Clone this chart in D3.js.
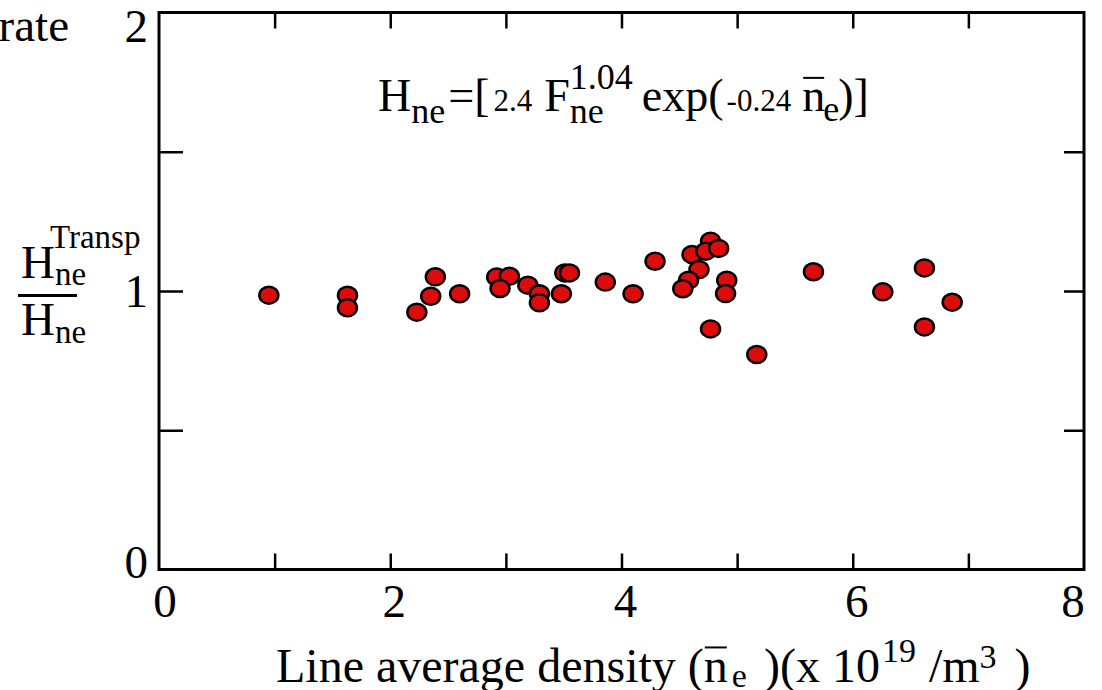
<!DOCTYPE html>
<html>
<head>
<meta charset="UTF-8">
<title>H_ne ratio vs line average density</title>
<script src="https://d3js.org/d3.v7.min.js"></script>
<style>
  body { margin: 0; background: #fff; }
  svg text { font-family: "Liberation Serif", "Times New Roman", serif; fill: #000; }
</style>
</head>
<body>
<svg id="chart" width="1102" height="690"></svg>
<script>
// line average density (x 10^19 /m^3)
const density = [0.95, 1.63, 1.63, 2.23, 2.39, 2.35, 2.60, 2.92, 3.03, 2.95,
                 3.19, 3.29, 3.29, 3.48, 3.51, 3.55, 3.86, 4.10, 4.29, 4.61,
                 4.77, 4.73, 4.84, 4.67, 4.58, 4.53, 4.91, 4.90, 4.77, 5.17,
                 5.66, 6.26, 6.62, 6.86, 6.62];
// H_ne^Transp / H_ne
const ratio = [0.985, 0.985, 0.940, 0.924, 1.051, 0.981, 0.990, 1.050, 1.053, 1.009,
               1.021, 0.990, 0.958, 0.990, 1.065, 1.065, 1.032, 0.990, 1.107, 1.131,
               1.179, 1.143, 1.153, 1.077, 1.039, 1.008, 1.039, 0.991, 0.864, 0.772,
               1.069, 0.997, 1.083, 0.960, 0.871];

const xLabels = [0, 2, 4, 6, 8];
const xMarks = [1, 2, 3, 4, 5, 6, 7];
const yLabels = [0, 1, 2];
const yMarks = [0.5, 1, 1.5];

const svg = d3.select("svg#chart");
const plotLeft = 159, plotRight = 1084, plotTop = 12.5, plotBottom = 569.5;

const x = d3.scaleLinear().domain([0, 8]).range([plotLeft, plotRight]);
const y = d3.scaleLinear().domain([0, 2]).range([plotBottom, plotTop]);

// tick marks, all pointing inward
svg.append("g").attr("transform", `translate(0,${plotBottom})`)
    .call(d3.axisBottom(x).tickValues(xMarks).tickSize(-16).tickFormat(""));
svg.append("g").attr("transform", `translate(0,${plotTop})`)
    .call(d3.axisTop(x).tickValues(xMarks).tickSize(-16).tickFormat(""));
svg.append("g").attr("transform", `translate(${plotLeft},0)`)
    .call(d3.axisLeft(y).tickValues(yMarks).tickSize(-24).tickFormat(""));
svg.append("g").attr("transform", `translate(${plotRight},0)`)
    .call(d3.axisRight(y).tickValues(yMarks).tickSize(-20).tickFormat(""));
svg.selectAll(".domain").remove();
svg.selectAll(".tick line").attr("stroke", "#000").attr("stroke-width", 2.5);

// frame
svg.append("rect")
    .attr("x", plotLeft).attr("y", plotTop)
    .attr("width", plotRight - plotLeft).attr("height", plotBottom - plotTop)
    .attr("fill", "none").attr("stroke", "#000").attr("stroke-width", 3);

// tick labels
svg.append("g").selectAll("text").data(xLabels).join("text")
    .attr("x", d => Math.max(165, Math.min(1073, x(d) + 4)))
    .attr("y", 617)
    .attr("text-anchor", "middle")
    .attr("font-size", 47)
    .text(d => d);
svg.append("g").selectAll("text").data(yLabels).join("text")
    .attr("x", 148)
    .attr("y", d => Math.max(42, Math.min(578, y(d) + 16)))
    .attr("text-anchor", "end")
    .attr("font-size", 47)
    .text(d => d);

// points
svg.append("g").selectAll("ellipse").data(density).join("ellipse")
    .attr("cx", d => x(d))
    .attr("cy", (d, i) => y(ratio[i]))
    .attr("rx", 9.5).attr("ry", 8.5)
    .attr("fill", "#dc0c0c")
    .attr("stroke", "#000")
    .attr("stroke-width", 2.5);

// text made of pieces: sub/superscripts, overlines
function richText(x0, base, parts) {
    let cursor = x0, prevX = x0;
    parts.forEach(p => {
        const px = p.stack ? prevX + (p.dx || 0) : cursor + (p.dx || 0);
        const t = svg.append("text")
            .attr("x", px)
            .attr("y", base + (p.shift || 0))
            .attr("font-size", p.s)
            .text(p.t);
        const w = t.node().getComputedTextLength();
        if (p.over) {
            const oy = base + (p.shift || 0) - p.s * 0.72;
            svg.append("line")
                .attr("x1", px + 1).attr("x2", px + w - 1)
                .attr("y1", oy).attr("y2", oy)
                .attr("stroke", "#000").attr("stroke-width", 2);
        }
        if (!p.stack) prevX = px;
        cursor = Math.max(cursor, px + w);
    });
}

// formula
richText(378, 111, [
    { t: "H", s: 46 },
    { t: "ne", s: 36, shift: 12 },
    { t: "=[", s: 46, dx: 3 },
    { t: "2.4", s: 31, dx: 4 },
    { t: "F", s: 46, dx: 12 },
    { t: "ne", s: 36, shift: 12 },
    { t: "1.04", s: 36, shift: -22, stack: true },
    { t: "exp(", s: 46, dx: 9 },
    { t: "-0.24", s: 31, dx: 3 },
    { t: "n", s: 46, dx: 11, over: true },
    { t: "e", s: 36, shift: 10, dx: -2 },
    { t: ")]", s: 46, dx: -1 }
]);

// x-axis title
richText(276, 682, [
    { t: "Line average density (", s: 48 },
    { t: "n", s: 48, over: true },
    { t: "e", s: 34, shift: 5, dx: 4 },
    { t: ")(x 10", s: 48, dx: 17 },
    { t: "19", s: 34, shift: -20, dx: 2 },
    { t: "/m", s: 48, dx: 13 },
    { t: "3", s: 34, shift: -14 },
    { t: ")", s: 48, dx: 18 }
]);

// y-axis label: fraction
richText(21, 278, [
    { t: "H", s: 47 },
    { t: "ne", s: 33, shift: 7 },
    { t: "Transp", s: 33, shift: -30, stack: true, dx: -5 }
]);
svg.append("line")
    .attr("x1", 18).attr("x2", 77)
    .attr("y1", 295.5).attr("y2", 295.5)
    .attr("stroke", "#000").attr("stroke-width", 3);
richText(21, 335, [
    { t: "H", s: 47 },
    { t: "ne", s: 33, shift: 8 }
]);

// leftover of a clipped caption
svg.append("text")
    .attr("x", 69).attr("y", 41)
    .attr("text-anchor", "end")
    .attr("font-size", 47)
    .text("rate");
</script>
</body>
</html>
